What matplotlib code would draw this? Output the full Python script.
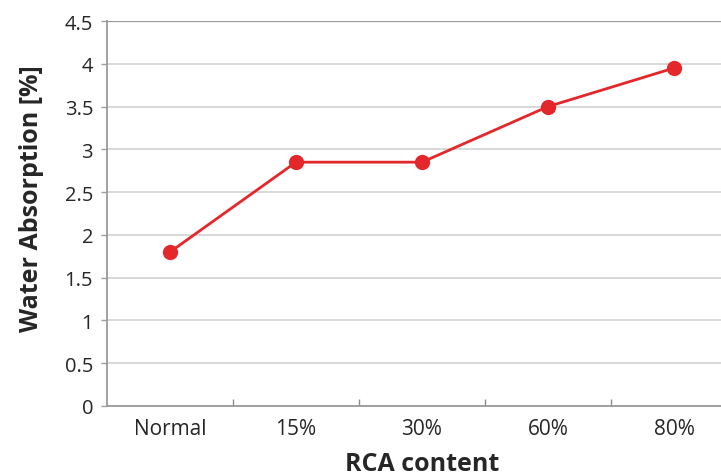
import matplotlib
matplotlib.use("Agg")
import matplotlib.pyplot as plt
import numpy as np

categories = ["Normal", "15%", "30%", "60%", "80%"]
water_absorption = [1.8, 2.85, 2.85, 3.5, 3.95]
y_ticks = [0, 0.5, 1, 1.5, 2, 2.5, 3, 3.5, 4, 4.5]
y_tick_labels = ["0", "0.5", "1", "1.5", "2", "2.5", "3", "3.5", "4", "4.5"]

plt.rcParams["font.family"] = ["Open Sans", "DejaVu Sans"]

W, H = 721, 477
fig = plt.figure(figsize=(W / 100, H / 100), dpi=100)
left, right, top, bottom = 107, 737, 22, 407
ax = fig.add_axes([left / W, 1 - bottom / H, (right - left) / W, (bottom - top) / H])

x = np.arange(len(categories))
ax.plot(x, water_absorption, color="#e3272a", linewidth=2.0, marker="o",
        markersize=11, markeredgewidth=0, zorder=3)

ax.set_xlim(-0.5, len(categories) - 0.5)
ax.set_ylim(0, 4.5)

ax.set_yticks(y_ticks)
ax.set_yticklabels(y_tick_labels)
ax.yaxis.grid(True, color="#d6d6d6", linewidth=1.3)
ax.set_axisbelow(True)
ax.axhline(4.5, color="#9a9a9a", linewidth=1.6, zorder=2)

# category labels centred, tick marks on the category boundaries
ax.set_xticks(x)
ax.set_xticklabels(categories)
ax.tick_params(axis="x", length=0, pad=9, labelsize=15, labelcolor="#262626")
ax.set_xticks(np.arange(0.5, len(categories) - 0.5, 1), minor=True)
ax.tick_params(axis="x", which="minor", direction="in", length=5, color="#8c8c8c", width=1)
ax.tick_params(axis="y", length=4, color="#a0a0a0", width=1, pad=6,
               labelsize=14.5, labelcolor="#262626")

for side in ["top", "right"]:
    ax.spines[side].set_visible(False)
for side in ["left", "bottom"]:
    ax.spines[side].set_color("#9a9a9a")
    ax.spines[side].set_linewidth(1.3)

ax.set_xlabel("RCA content", fontsize=18, fontweight="bold", color="#262626")
ax.set_ylabel("Water Absorption [%]", fontsize=18, fontweight="bold", color="#262626")
ax.xaxis.set_label_coords(0.5, -0.116)
ax.yaxis.set_label_coords(-0.10, 0.54)

fig.savefig("out.png", dpi=100)
